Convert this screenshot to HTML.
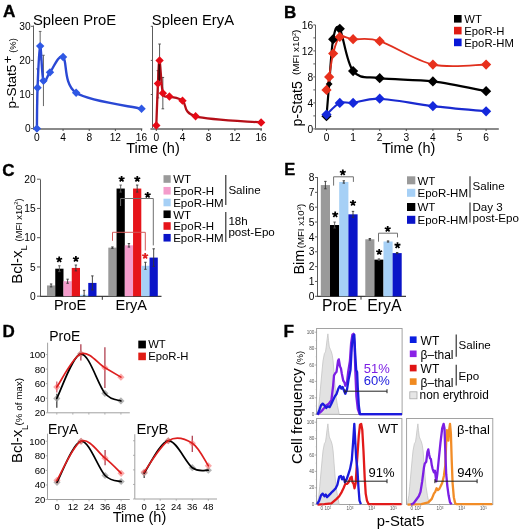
<!DOCTYPE html>
<html><head><meta charset="utf-8"><style>
html,body{margin:0;padding:0;background:#fff;width:520px;height:530px;overflow:hidden}
svg{display:block;will-change:transform}
text{font-family:"Liberation Sans", sans-serif}
</style></head><body>
<svg width="520" height="530" viewBox="0 0 520 530">
<rect width="520" height="530" fill="#fff"/>
<text x="3" y="17.3" font-size="17.2" text-anchor="start" fill="#000" font-weight="bold" stroke="#000" stroke-width="0.35">A</text>
<text x="33" y="24.8" font-size="14.8" text-anchor="start" fill="#000" >Spleen ProE</text>
<text x="151.8" y="24.8" font-size="14.8" text-anchor="start" fill="#000" >Spleen EryA</text>
<line x1="33.5" y1="25.5" x2="33.5" y2="130" stroke="#5c5c5c" stroke-width="1" />
<line x1="33" y1="129" x2="142.3" y2="129" stroke="#8a8a8a" stroke-width="1.9" />
<line x1="31" y1="128.6" x2="33.5" y2="128.6" stroke="#5c5c5c" stroke-width="1" />
<text x="30.6" y="132.2" font-size="10.2" text-anchor="end" fill="#000" >0</text>
<line x1="31" y1="94.5" x2="33.5" y2="94.5" stroke="#5c5c5c" stroke-width="1" />
<text x="30.6" y="98.1" font-size="10.2" text-anchor="end" fill="#000" >10</text>
<line x1="31" y1="60.4" x2="33.5" y2="60.4" stroke="#5c5c5c" stroke-width="1" />
<text x="30.6" y="64" font-size="10.2" text-anchor="end" fill="#000" >20</text>
<line x1="31" y1="26.3" x2="33.5" y2="26.3" stroke="#5c5c5c" stroke-width="1" />
<text x="30.6" y="29.9" font-size="10.2" text-anchor="end" fill="#000" >30</text>
<line x1="36.9" y1="129" x2="36.9" y2="131" stroke="#444" stroke-width="0.9" />
<text x="36.9" y="140.9" font-size="10.2" text-anchor="middle" fill="#000" >0</text>
<line x1="63.06" y1="129" x2="63.06" y2="131" stroke="#444" stroke-width="0.9" />
<text x="63.06" y="140.9" font-size="10.2" text-anchor="middle" fill="#000" >4</text>
<line x1="89.22" y1="129" x2="89.22" y2="131" stroke="#444" stroke-width="0.9" />
<text x="89.22" y="140.9" font-size="10.2" text-anchor="middle" fill="#000" >8</text>
<line x1="115.38" y1="129" x2="115.38" y2="131" stroke="#444" stroke-width="0.9" />
<text x="115.38" y="140.9" font-size="10.2" text-anchor="middle" fill="#000" >12</text>
<line x1="141.54" y1="129" x2="141.54" y2="131" stroke="#444" stroke-width="0.9" />
<text x="141.54" y="140.9" font-size="10.2" text-anchor="middle" fill="#000" >16</text>
<line x1="152.5" y1="26" x2="152.5" y2="130" stroke="#5c5c5c" stroke-width="1" />
<line x1="150.4" y1="129" x2="262" y2="129" stroke="#8a8a8a" stroke-width="1.9" />
<line x1="150.8" y1="94.5" x2="152.5" y2="94.5" stroke="#5c5c5c" stroke-width="1" />
<line x1="150.8" y1="60.4" x2="152.5" y2="60.4" stroke="#5c5c5c" stroke-width="1" />
<line x1="150.8" y1="26.3" x2="152.5" y2="26.3" stroke="#5c5c5c" stroke-width="1" />
<line x1="156.3" y1="129" x2="156.3" y2="131" stroke="#444" stroke-width="0.9" />
<text x="156.3" y="140.9" font-size="10.2" text-anchor="middle" fill="#000" >0</text>
<line x1="182.5" y1="129" x2="182.5" y2="131" stroke="#444" stroke-width="0.9" />
<text x="182.5" y="140.9" font-size="10.2" text-anchor="middle" fill="#000" >4</text>
<line x1="208.7" y1="129" x2="208.7" y2="131" stroke="#444" stroke-width="0.9" />
<text x="208.7" y="140.9" font-size="10.2" text-anchor="middle" fill="#000" >8</text>
<line x1="234.9" y1="129" x2="234.9" y2="131" stroke="#444" stroke-width="0.9" />
<text x="234.9" y="140.9" font-size="10.2" text-anchor="middle" fill="#000" >12</text>
<line x1="261.1" y1="129" x2="261.1" y2="131" stroke="#444" stroke-width="0.9" />
<text x="261.1" y="140.9" font-size="10.2" text-anchor="middle" fill="#000" >16</text>
<text x="153" y="152.7" font-size="14.5" text-anchor="middle" fill="#000" >Time (h)</text>
<text x="16.3" y="108.5" font-size="13.6" text-anchor="start" fill="#000" transform="rotate(-90 16.3 108.5)" >p-Stat5</text>
<text x="12.3" y="63.4" font-size="13.4" text-anchor="start" fill="#000" transform="rotate(-90 12.3 63.4)" >+</text>
<text x="16.4" y="52.8" font-size="9.4" text-anchor="start" fill="#000" transform="rotate(-90 16.4 52.8)" >(%)</text>
<line x1="37.55" y1="104.73" x2="37.55" y2="68.92" stroke="#555" stroke-width="0.9" />
<line x1="36.25" y1="68.92" x2="38.85" y2="68.92" stroke="#555" stroke-width="0.9" />
<line x1="40.17" y1="60.4" x2="40.17" y2="31.41" stroke="#555" stroke-width="0.9" />
<line x1="38.87" y1="31.41" x2="41.47" y2="31.41" stroke="#555" stroke-width="0.9" />
<line x1="43.44" y1="106.09" x2="43.44" y2="55.28" stroke="#555" stroke-width="0.9" />
<line x1="42.14" y1="55.28" x2="44.74" y2="55.28" stroke="#555" stroke-width="0.9" />
<path d="M36.9 128.6C37.01 121.78 37.01 101.43 37.55 87.68C38.1 73.93 39.19 47.21 40.17 46.08C41.15 44.94 41.8 76.48 43.44 80.86C45.07 85.24 46.71 76.31 49.98 72.33C53.25 68.36 58.7 53.58 63.06 56.99C67.42 60.4 63.06 84.16 76.14 92.79C89.22 101.43 130.64 106.15 141.54 108.82" fill="none" stroke="#2a48d4" stroke-width="2.4" stroke-linejoin="round" stroke-linecap="round" />
<path d="M36.9 124.4L41.1 128.6L36.9 132.8L32.7 128.6Z" fill="#2f58e4" />
<path d="M37.55 83.48L41.75 87.68L37.55 91.88L33.35 87.68Z" fill="#2f58e4" />
<path d="M40.17 41.88L44.37 46.08L40.17 50.28L35.97 46.08Z" fill="#2f58e4" />
<path d="M43.44 76.66L47.64 80.86L43.44 85.06L39.24 80.86Z" fill="#2f58e4" />
<path d="M49.98 68.13L54.18 72.33L49.98 76.53L45.78 72.33Z" fill="#2f58e4" />
<path d="M63.06 52.79L67.26 56.99L63.06 61.19L58.86 56.99Z" fill="#2f58e4" />
<path d="M76.14 88.59L80.34 92.79L76.14 96.99L71.94 92.79Z" fill="#2f58e4" />
<path d="M141.54 104.62L145.74 108.82L141.54 113.02L137.34 108.82Z" fill="#2f58e4" />
<line x1="157.94" y1="97.91" x2="157.94" y2="70.63" stroke="#444" stroke-width="0.9" />
<line x1="156.64" y1="70.63" x2="159.24" y2="70.63" stroke="#444" stroke-width="0.9" />
<line x1="156.64" y1="97.91" x2="159.24" y2="97.91" stroke="#444" stroke-width="0.9" />
<line x1="159.58" y1="82.22" x2="159.58" y2="44.03" stroke="#444" stroke-width="0.9" />
<line x1="158.28" y1="44.03" x2="160.88" y2="44.03" stroke="#444" stroke-width="0.9" />
<line x1="158.28" y1="82.22" x2="160.88" y2="82.22" stroke="#444" stroke-width="0.9" />
<line x1="162.85" y1="108.82" x2="162.85" y2="77.45" stroke="#444" stroke-width="0.9" />
<line x1="161.55" y1="77.45" x2="164.15" y2="77.45" stroke="#444" stroke-width="0.9" />
<line x1="161.55" y1="108.82" x2="164.15" y2="108.82" stroke="#444" stroke-width="0.9" />
<path d="M156.3 125.53C156.57 118.54 157.39 94.44 157.94 83.59C158.48 72.73 158.76 58.81 159.58 60.4C160.39 61.99 161.21 87.11 162.85 93.14C164.49 99.16 166.12 95.3 169.4 96.55C172.68 97.8 178.13 97.34 182.5 100.64C186.87 103.93 182.5 112.69 195.6 116.32C208.7 119.96 250.18 121.44 261.1 122.46" fill="none" stroke="#b50f18" stroke-width="2.3" stroke-linejoin="round" stroke-linecap="round" />
<line x1="159.28" y1="63.81" x2="159.28" y2="80.86" stroke="#3a0808" stroke-width="1.8" />
<path d="M156.3 121.33L160.5 125.53L156.3 129.73L152.1 125.53Z" fill="#e60a16" />
<path d="M157.94 79.39L162.14 83.59L157.94 87.79L153.74 83.59Z" fill="#e60a16" />
<path d="M159.58 56.2L163.78 60.4L159.58 64.6L155.38 60.4Z" fill="#e60a16" />
<path d="M162.85 88.94L167.05 93.14L162.85 97.34L158.65 93.14Z" fill="#e60a16" />
<path d="M169.4 92.35L173.6 96.55L169.4 100.75L165.2 96.55Z" fill="#e60a16" />
<path d="M182.5 96.44L186.7 100.64L182.5 104.84L178.3 100.64Z" fill="#e60a16" />
<path d="M195.6 112.12L199.8 116.32L195.6 120.52L191.4 116.32Z" fill="#e60a16" />
<path d="M261.1 118.26L265.3 122.46L261.1 126.66L256.9 122.46Z" fill="#e60a16" />
<text x="284" y="17.9" font-size="17" text-anchor="start" fill="#000" font-weight="bold" stroke="#000" stroke-width="0.35">B</text>
<line x1="315.5" y1="25" x2="315.5" y2="130" stroke="#5c5c5c" stroke-width="1" />
<line x1="315" y1="129" x2="498.8" y2="129" stroke="#8a8a8a" stroke-width="1.9" />
<line x1="313.3" y1="128.9" x2="315.5" y2="128.9" stroke="#5c5c5c" stroke-width="1" />
<line x1="313.3" y1="115.9" x2="315.5" y2="115.9" stroke="#5c5c5c" stroke-width="1" />
<line x1="313.3" y1="102.9" x2="315.5" y2="102.9" stroke="#5c5c5c" stroke-width="1" />
<line x1="313.3" y1="89.9" x2="315.5" y2="89.9" stroke="#5c5c5c" stroke-width="1" />
<line x1="313.3" y1="76.9" x2="315.5" y2="76.9" stroke="#5c5c5c" stroke-width="1" />
<line x1="313.3" y1="63.9" x2="315.5" y2="63.9" stroke="#5c5c5c" stroke-width="1" />
<line x1="313.3" y1="50.9" x2="315.5" y2="50.9" stroke="#5c5c5c" stroke-width="1" />
<line x1="313.3" y1="37.9" x2="315.5" y2="37.9" stroke="#5c5c5c" stroke-width="1" />
<line x1="313.3" y1="24.9" x2="315.5" y2="24.9" stroke="#5c5c5c" stroke-width="1" />
<text x="313.2" y="132.5" font-size="10.2" text-anchor="end" fill="#000" >0</text>
<text x="313.2" y="106.5" font-size="10.2" text-anchor="end" fill="#000" >4</text>
<text x="313.2" y="80.5" font-size="10.2" text-anchor="end" fill="#000" >8</text>
<text x="313.2" y="54.5" font-size="10.2" text-anchor="end" fill="#000" >12</text>
<text x="313.2" y="28.5" font-size="10.2" text-anchor="end" fill="#000" >16</text>
<line x1="326.5" y1="129" x2="326.5" y2="131" stroke="#444" stroke-width="0.9" />
<text x="326.5" y="141.2" font-size="10.2" text-anchor="middle" fill="#000" >0</text>
<line x1="353.1" y1="129" x2="353.1" y2="131" stroke="#444" stroke-width="0.9" />
<text x="353.1" y="141.2" font-size="10.2" text-anchor="middle" fill="#000" >1</text>
<line x1="379.7" y1="129" x2="379.7" y2="131" stroke="#444" stroke-width="0.9" />
<text x="379.7" y="141.2" font-size="10.2" text-anchor="middle" fill="#000" >2</text>
<line x1="406.3" y1="129" x2="406.3" y2="131" stroke="#444" stroke-width="0.9" />
<text x="406.3" y="141.2" font-size="10.2" text-anchor="middle" fill="#000" >3</text>
<line x1="432.9" y1="129" x2="432.9" y2="131" stroke="#444" stroke-width="0.9" />
<text x="432.9" y="141.2" font-size="10.2" text-anchor="middle" fill="#000" >4</text>
<line x1="459.5" y1="129" x2="459.5" y2="131" stroke="#444" stroke-width="0.9" />
<text x="459.5" y="141.2" font-size="10.2" text-anchor="middle" fill="#000" >5</text>
<line x1="486.1" y1="129" x2="486.1" y2="131" stroke="#444" stroke-width="0.9" />
<text x="486.1" y="141.2" font-size="10.2" text-anchor="middle" fill="#000" >6</text>
<text x="408.6" y="152.7" font-size="14.5" text-anchor="middle" fill="#000" >Time (h)</text>
<text x="302" y="126.4" font-size="14" text-anchor="start" fill="#000" transform="rotate(-90 302 126.4)" >p-Stat5</text>
<text x="299" y="75" font-size="9.9" transform="rotate(-90 299 75)">(MFI x10<tspan font-size="5.5" dy="-3">2</tspan><tspan dy="3">)</tspan></text>
<path d="M326.5 114.6C328.72 112.65 335.37 104.85 339.8 102.9C344.23 100.95 346.45 103.6 353.1 102.9C359.75 102.2 366.4 98.13 379.7 98.68C393 99.22 415.17 104.04 432.9 106.15C450.63 108.26 477.23 110.48 486.1 111.35" fill="none" stroke="#1a2ad0" stroke-width="2.1" stroke-linejoin="round" stroke-linecap="round" />
<path d="M326.5 116.23C326.94 110.86 328.05 96.89 329.16 84.05C330.27 71.21 331.38 48.41 333.15 39.2C334.92 29.99 336.48 23.49 339.8 28.8C343.12 34.11 346.45 62.82 353.1 71.05C359.75 79.28 366.4 76.47 379.7 78.2C393 79.93 415.17 79.28 432.9 81.45C450.63 83.62 477.23 89.58 486.1 91.2" fill="none" stroke="#000" stroke-width="2.2" stroke-linejoin="round" stroke-linecap="round" />
<path d="M326.5 89.9C326.94 87.73 328.05 82.97 329.16 76.9C330.27 70.83 331.38 60.16 333.15 53.5C334.92 46.84 336.48 39.31 339.8 36.92C343.12 34.54 346.45 38.5 353.1 39.2C359.75 39.9 366.4 36.93 379.7 41.15C393 45.38 415.17 60.65 432.9 64.55C450.63 68.45 477.23 64.55 486.1 64.55" fill="none" stroke="#e0301e" stroke-width="1.9" stroke-linejoin="round" stroke-linecap="round" />
<path d="M326.5 111.13L331.6 116.23L326.5 121.33L321.4 116.23Z" fill="#000" />
<path d="M329.16 80.65L332.56 84.05L329.16 87.45L325.76 84.05Z" fill="#000" />
<path d="M333.15 34.1L338.25 39.2L333.15 44.3L328.05 39.2Z" fill="#000" />
<path d="M339.8 23.7L344.9 28.8L339.8 33.9L334.7 28.8Z" fill="#000" />
<path d="M353.1 65.95L358.2 71.05L353.1 76.15L348 71.05Z" fill="#000" />
<path d="M379.7 73.1L384.8 78.2L379.7 83.3L374.6 78.2Z" fill="#000" />
<path d="M432.9 76.35L438 81.45L432.9 86.55L427.8 81.45Z" fill="#000" />
<path d="M486.1 86.1L491.2 91.2L486.1 96.3L481 91.2Z" fill="#000" />
<path d="M326.5 84.8L331.6 89.9L326.5 95L321.4 89.9Z" fill="#e8301c" />
<path d="M329.16 71.8L334.26 76.9L329.16 82L324.06 76.9Z" fill="#e8301c" />
<path d="M333.15 48.4L338.25 53.5L333.15 58.6L328.05 53.5Z" fill="#e8301c" />
<path d="M339.8 31.82L344.9 36.92L339.8 42.02L334.7 36.92Z" fill="#e8301c" />
<path d="M353.1 34.1L358.2 39.2L353.1 44.3L348 39.2Z" fill="#e8301c" />
<path d="M379.7 36.05L384.8 41.15L379.7 46.25L374.6 41.15Z" fill="#e8301c" />
<path d="M432.9 59.45L438 64.55L432.9 69.65L427.8 64.55Z" fill="#e8301c" />
<path d="M486.1 59.45L491.2 64.55L486.1 69.65L481 64.55Z" fill="#e8301c" />
<path d="M326.5 109.5L331.6 114.6L326.5 119.7L321.4 114.6Z" fill="#1428dc" />
<path d="M339.8 97.8L344.9 102.9L339.8 108L334.7 102.9Z" fill="#1428dc" />
<path d="M353.1 97.8L358.2 102.9L353.1 108L348 102.9Z" fill="#1428dc" />
<path d="M379.7 93.58L384.8 98.68L379.7 103.78L374.6 98.68Z" fill="#1428dc" />
<path d="M432.9 101.05L438 106.15L432.9 111.25L427.8 106.15Z" fill="#1428dc" />
<path d="M486.1 106.25L491.2 111.35L486.1 116.45L481 111.35Z" fill="#1428dc" />
<rect x="454" y="15" width="7.6" height="7.6" fill="#000" />
<text x="464.3" y="23.3" font-size="11.3" text-anchor="start" fill="#000" >WT</text>
<rect x="454" y="26.8" width="7.6" height="7.6" fill="#e01c14" />
<text x="464.3" y="35.1" font-size="11.3" text-anchor="start" fill="#000" >EpoR-H</text>
<rect x="454" y="38.6" width="7.6" height="7.6" fill="#0818d8" />
<text x="464.3" y="46.9" font-size="11.3" text-anchor="start" fill="#000" >EpoR-HM</text>
<text x="2.2" y="175.8" font-size="17" text-anchor="start" fill="#000" font-weight="bold" stroke="#000" stroke-width="0.35">C</text>
<line x1="40.5" y1="179.5" x2="40.5" y2="296.6" stroke="#5c5c5c" stroke-width="1" />
<line x1="40" y1="296.4" x2="161.5" y2="296.4" stroke="#404040" stroke-width="1.2" />
<line x1="37" y1="296.2" x2="40.5" y2="296.2" stroke="#5c5c5c" stroke-width="1" />
<text x="35.6" y="299.8" font-size="10.2" text-anchor="end" fill="#000" >0</text>
<line x1="37" y1="266.95" x2="40.5" y2="266.95" stroke="#5c5c5c" stroke-width="1" />
<text x="35.6" y="270.55" font-size="10.2" text-anchor="end" fill="#000" >5</text>
<line x1="37" y1="237.7" x2="40.5" y2="237.7" stroke="#5c5c5c" stroke-width="1" />
<text x="35.6" y="241.3" font-size="10.2" text-anchor="end" fill="#000" >10</text>
<line x1="37" y1="208.45" x2="40.5" y2="208.45" stroke="#5c5c5c" stroke-width="1" />
<text x="35.6" y="212.05" font-size="10.2" text-anchor="end" fill="#000" >15</text>
<line x1="37" y1="179.2" x2="40.5" y2="179.2" stroke="#5c5c5c" stroke-width="1" />
<text x="35.6" y="182.8" font-size="10.2" text-anchor="end" fill="#000" >20</text>
<line x1="102.3" y1="296.2" x2="102.3" y2="299.8" stroke="#333" stroke-width="1" />
<rect x="47" y="285.44" width="8.25" height="10.76" fill="#9a9a9a" />
<rect x="55.25" y="268.7" width="8.25" height="27.5" fill="#000" />
<rect x="63.5" y="281.22" width="8.25" height="14.98" fill="#f49ccb" />
<rect x="71.75" y="267.94" width="8.25" height="28.26" fill="#e6141a" />
<rect x="80" y="294.74" width="8.25" height="1.46" fill="#a6d0f6" />
<rect x="88.25" y="282.92" width="8.25" height="13.28" fill="#0a14c8" />
<line x1="51.12" y1="286.9" x2="51.12" y2="283.97" stroke="#333" stroke-width="0.9" />
<line x1="49.92" y1="283.97" x2="52.33" y2="283.97" stroke="#333" stroke-width="0.9" />
<line x1="49.92" y1="286.9" x2="52.33" y2="286.9" stroke="#333" stroke-width="0.9" />
<line x1="59.38" y1="271.63" x2="59.38" y2="265.78" stroke="#555" stroke-width="0.9" />
<line x1="58.17" y1="265.78" x2="60.58" y2="265.78" stroke="#555" stroke-width="0.9" />
<line x1="58.17" y1="271.63" x2="60.58" y2="271.63" stroke="#555" stroke-width="0.9" />
<line x1="67.62" y1="283.27" x2="67.62" y2="279.18" stroke="#333" stroke-width="0.9" />
<line x1="66.42" y1="279.18" x2="68.83" y2="279.18" stroke="#333" stroke-width="0.9" />
<line x1="66.42" y1="283.27" x2="68.83" y2="283.27" stroke="#333" stroke-width="0.9" />
<line x1="75.88" y1="270.87" x2="75.88" y2="265.02" stroke="#333" stroke-width="0.9" />
<line x1="74.67" y1="265.02" x2="77.08" y2="265.02" stroke="#333" stroke-width="0.9" />
<line x1="74.67" y1="270.87" x2="77.08" y2="270.87" stroke="#333" stroke-width="0.9" />
<line x1="84.12" y1="295.73" x2="84.12" y2="290.35" stroke="#333" stroke-width="0.9" />
<line x1="82.92" y1="290.35" x2="85.33" y2="290.35" stroke="#333" stroke-width="0.9" />
<line x1="82.92" y1="295.73" x2="85.33" y2="295.73" stroke="#333" stroke-width="0.9" />
<line x1="92.38" y1="289.94" x2="92.38" y2="275.9" stroke="#333" stroke-width="0.9" />
<line x1="91.17" y1="275.9" x2="93.58" y2="275.9" stroke="#333" stroke-width="0.9" />
<line x1="91.17" y1="289.94" x2="93.58" y2="289.94" stroke="#333" stroke-width="0.9" />
<rect x="108.3" y="247.64" width="8.25" height="48.56" fill="#9a9a9a" />
<rect x="116.55" y="188.56" width="8.25" height="107.64" fill="#000" />
<rect x="124.8" y="245.31" width="8.25" height="50.89" fill="#f49ccb" />
<rect x="133.05" y="188.56" width="8.25" height="107.64" fill="#e6141a" />
<rect x="141.3" y="265.78" width="8.25" height="30.42" fill="#a6d0f6" />
<rect x="149.55" y="257.59" width="8.25" height="38.61" fill="#0a14c8" />
<line x1="112.42" y1="248.35" x2="112.42" y2="246.94" stroke="#333" stroke-width="0.9" />
<line x1="111.22" y1="246.94" x2="113.62" y2="246.94" stroke="#333" stroke-width="0.9" />
<line x1="111.22" y1="248.35" x2="113.62" y2="248.35" stroke="#333" stroke-width="0.9" />
<line x1="120.67" y1="192.07" x2="120.67" y2="185.05" stroke="#555" stroke-width="0.9" />
<line x1="119.47" y1="185.05" x2="121.88" y2="185.05" stroke="#555" stroke-width="0.9" />
<line x1="119.47" y1="192.07" x2="121.88" y2="192.07" stroke="#555" stroke-width="0.9" />
<line x1="128.93" y1="247.06" x2="128.93" y2="243.55" stroke="#333" stroke-width="0.9" />
<line x1="127.73" y1="243.55" x2="130.12" y2="243.55" stroke="#333" stroke-width="0.9" />
<line x1="127.73" y1="247.06" x2="130.12" y2="247.06" stroke="#333" stroke-width="0.9" />
<line x1="137.18" y1="192.07" x2="137.18" y2="185.05" stroke="#333" stroke-width="0.9" />
<line x1="135.98" y1="185.05" x2="138.38" y2="185.05" stroke="#333" stroke-width="0.9" />
<line x1="135.98" y1="192.07" x2="138.38" y2="192.07" stroke="#333" stroke-width="0.9" />
<line x1="145.43" y1="269.29" x2="145.43" y2="262.27" stroke="#333" stroke-width="0.9" />
<line x1="144.23" y1="262.27" x2="146.62" y2="262.27" stroke="#333" stroke-width="0.9" />
<line x1="144.23" y1="269.29" x2="146.62" y2="269.29" stroke="#333" stroke-width="0.9" />
<line x1="153.68" y1="266.37" x2="153.68" y2="248.81" stroke="#333" stroke-width="0.9" />
<line x1="152.48" y1="248.81" x2="154.88" y2="248.81" stroke="#333" stroke-width="0.9" />
<line x1="152.48" y1="266.37" x2="154.88" y2="266.37" stroke="#333" stroke-width="0.9" />
<path d="M59.2 259.5L59.2 256.4M59.2 259.5L62.15 258.54M59.2 259.5L61.02 262.01M59.2 259.5L57.38 262.01M59.2 259.5L56.25 258.54" stroke="#000" stroke-width="1.75" stroke-linecap="butt" fill="none"/>
<path d="M75.9 259L75.9 255.9M75.9 259L78.85 258.04M75.9 259L77.72 261.51M75.9 259L74.08 261.51M75.9 259L72.95 258.04" stroke="#000" stroke-width="1.75" stroke-linecap="butt" fill="none"/>
<path d="M121.6 179L121.6 175.9M121.6 179L124.55 178.04M121.6 179L123.42 181.51M121.6 179L119.78 181.51M121.6 179L118.65 178.04" stroke="#000" stroke-width="1.75" stroke-linecap="butt" fill="none"/>
<path d="M137.3 179L137.3 175.9M137.3 179L140.25 178.04M137.3 179L139.12 181.51M137.3 179L135.48 181.51M137.3 179L134.35 178.04" stroke="#000" stroke-width="1.75" stroke-linecap="butt" fill="none"/>
<path d="M147.7 195L147.7 191.9M147.7 195L150.65 194.04M147.7 195L149.52 197.51M147.7 195L145.88 197.51M147.7 195L144.75 194.04" stroke="#000" stroke-width="1.75" stroke-linecap="butt" fill="none"/>
<path d="M120.6 206V198.5H153.3V245.4" fill="none" stroke="#707070" stroke-width="1"/>
<path d="M112.5 240.8V232.3H145.3V250.5" fill="none" stroke="#d45858" stroke-width="1"/>
<path d="M145.2 256L145.2 252.9M145.2 256L148.15 255.04M145.2 256L147.02 258.51M145.2 256L143.38 258.51M145.2 256L142.25 255.04" stroke="#e02020" stroke-width="1.75" stroke-linecap="butt" fill="none"/>
<rect x="163.5" y="175.2" width="7.2" height="7.6" fill="#9a9a9a" />
<text x="173.2" y="183.4" font-size="11.5" text-anchor="start" fill="#000" >WT</text>
<rect x="163.5" y="186.95" width="7.2" height="7.6" fill="#f49ccb" />
<text x="173.2" y="195.15" font-size="11.5" text-anchor="start" fill="#000" >EpoR-H</text>
<rect x="163.5" y="198.7" width="7.2" height="7.6" fill="#a6d0f6" />
<text x="173.2" y="206.9" font-size="11.5" text-anchor="start" fill="#000" >EpoR-HM</text>
<rect x="163.5" y="210.45" width="7.2" height="7.6" fill="#000" />
<text x="173.2" y="218.65" font-size="11.5" text-anchor="start" fill="#000" >WT</text>
<rect x="163.5" y="222.2" width="7.2" height="7.6" fill="#e6141a" />
<text x="173.2" y="230.4" font-size="11.5" text-anchor="start" fill="#000" >EpoR-H</text>
<rect x="163.5" y="233.95" width="7.2" height="7.6" fill="#0a14c8" />
<text x="173.2" y="242.15" font-size="11.5" text-anchor="start" fill="#000" >EpoR-HM</text>
<line x1="225.8" y1="175" x2="225.8" y2="205" stroke="#222" stroke-width="1.1" />
<line x1="225.8" y1="212" x2="225.8" y2="242" stroke="#222" stroke-width="1.1" />
<text x="228.4" y="193.5" font-size="11.6" text-anchor="start" fill="#000" >Saline</text>
<text x="228.4" y="224.6" font-size="11.6" text-anchor="start" fill="#000" >18h</text>
<text x="228.4" y="236.3" font-size="11.6" text-anchor="start" fill="#000" >post-Epo</text>
<text x="70" y="310.3" font-size="14.5" text-anchor="middle" fill="#000" >ProE</text>
<text x="131.3" y="310.3" font-size="14.5" text-anchor="middle" fill="#000" >EryA</text>
<text x="21.6" y="283.8" font-size="15" text-anchor="start" fill="#000" transform="rotate(-90 21.6 283.8)" >Bcl-x</text>
<text x="26.6" y="250.4" font-size="9.8" text-anchor="start" fill="#000" transform="rotate(-90 26.6 250.4)" >L</text>
<text x="21.6" y="241.4" font-size="9.3" transform="rotate(-90 21.6 241.4)">(MFI x10<tspan font-size="5.8" dy="-3.3">2</tspan><tspan dy="3.3">)</tspan></text>
<text x="284.2" y="175.4" font-size="16.5" text-anchor="start" fill="#000" font-weight="bold" stroke="#000" stroke-width="0.35">E</text>
<line x1="317.5" y1="177" x2="317.5" y2="296.7" stroke="#5c5c5c" stroke-width="1" />
<line x1="317" y1="296.4" x2="406" y2="296.4" stroke="#404040" stroke-width="1.2" />
<line x1="315" y1="296.3" x2="317.5" y2="296.3" stroke="#5c5c5c" stroke-width="1" />
<text x="314.5" y="299.9" font-size="10.2" text-anchor="end" fill="#000" >0</text>
<line x1="315" y1="281.45" x2="317.5" y2="281.45" stroke="#5c5c5c" stroke-width="1" />
<text x="314.5" y="285.05" font-size="10.2" text-anchor="end" fill="#000" >1</text>
<line x1="315" y1="266.6" x2="317.5" y2="266.6" stroke="#5c5c5c" stroke-width="1" />
<text x="314.5" y="270.2" font-size="10.2" text-anchor="end" fill="#000" >2</text>
<line x1="315" y1="251.75" x2="317.5" y2="251.75" stroke="#5c5c5c" stroke-width="1" />
<text x="314.5" y="255.35" font-size="10.2" text-anchor="end" fill="#000" >3</text>
<line x1="315" y1="236.9" x2="317.5" y2="236.9" stroke="#5c5c5c" stroke-width="1" />
<text x="314.5" y="240.5" font-size="10.2" text-anchor="end" fill="#000" >4</text>
<line x1="315" y1="222.05" x2="317.5" y2="222.05" stroke="#5c5c5c" stroke-width="1" />
<text x="314.5" y="225.65" font-size="10.2" text-anchor="end" fill="#000" >5</text>
<line x1="315" y1="207.2" x2="317.5" y2="207.2" stroke="#5c5c5c" stroke-width="1" />
<text x="314.5" y="210.8" font-size="10.2" text-anchor="end" fill="#000" >6</text>
<line x1="315" y1="192.35" x2="317.5" y2="192.35" stroke="#5c5c5c" stroke-width="1" />
<text x="314.5" y="195.95" font-size="10.2" text-anchor="end" fill="#000" >7</text>
<line x1="315" y1="177.5" x2="317.5" y2="177.5" stroke="#5c5c5c" stroke-width="1" />
<text x="314.5" y="181.1" font-size="10.2" text-anchor="end" fill="#000" >8</text>
<line x1="361" y1="296.3" x2="361" y2="299.6" stroke="#333" stroke-width="1" />
<rect x="320.8" y="185.07" width="9.2" height="111.23" fill="#9a9a9a" />
<rect x="330" y="225.02" width="9.2" height="71.28" fill="#000" />
<rect x="339.2" y="181.96" width="9.2" height="114.34" fill="#a6d0f6" />
<rect x="348.4" y="214.33" width="9.2" height="81.97" fill="#0a14c8" />
<line x1="325.4" y1="188.79" x2="325.4" y2="181.36" stroke="#333" stroke-width="0.9" />
<line x1="324.2" y1="181.36" x2="326.6" y2="181.36" stroke="#333" stroke-width="0.9" />
<line x1="324.2" y1="188.79" x2="326.6" y2="188.79" stroke="#333" stroke-width="0.9" />
<line x1="334.6" y1="227.99" x2="334.6" y2="222.05" stroke="#555" stroke-width="0.9" />
<line x1="333.4" y1="222.05" x2="335.8" y2="222.05" stroke="#555" stroke-width="0.9" />
<line x1="333.4" y1="227.99" x2="335.8" y2="227.99" stroke="#555" stroke-width="0.9" />
<line x1="343.8" y1="183.14" x2="343.8" y2="180.77" stroke="#333" stroke-width="0.9" />
<line x1="342.6" y1="180.77" x2="345" y2="180.77" stroke="#333" stroke-width="0.9" />
<line x1="342.6" y1="183.14" x2="345" y2="183.14" stroke="#333" stroke-width="0.9" />
<line x1="353" y1="217.3" x2="353" y2="211.36" stroke="#333" stroke-width="0.9" />
<line x1="351.8" y1="211.36" x2="354.2" y2="211.36" stroke="#333" stroke-width="0.9" />
<line x1="351.8" y1="217.3" x2="354.2" y2="217.3" stroke="#333" stroke-width="0.9" />
<rect x="365.3" y="239.28" width="9.1" height="57.02" fill="#9a9a9a" />
<rect x="374.4" y="259.62" width="9.1" height="36.68" fill="#000" />
<rect x="383.5" y="241.5" width="9.1" height="54.8" fill="#a6d0f6" />
<rect x="392.6" y="253.09" width="9.1" height="43.21" fill="#0a14c8" />
<line x1="369.85" y1="240.02" x2="369.85" y2="238.53" stroke="#333" stroke-width="0.9" />
<line x1="368.65" y1="238.53" x2="371.05" y2="238.53" stroke="#333" stroke-width="0.9" />
<line x1="368.65" y1="240.02" x2="371.05" y2="240.02" stroke="#333" stroke-width="0.9" />
<line x1="378.95" y1="260.36" x2="378.95" y2="258.88" stroke="#555" stroke-width="0.9" />
<line x1="377.75" y1="258.88" x2="380.15" y2="258.88" stroke="#555" stroke-width="0.9" />
<line x1="377.75" y1="260.36" x2="380.15" y2="260.36" stroke="#555" stroke-width="0.9" />
<line x1="388.05" y1="242.1" x2="388.05" y2="240.91" stroke="#333" stroke-width="0.9" />
<line x1="386.85" y1="240.91" x2="389.25" y2="240.91" stroke="#333" stroke-width="0.9" />
<line x1="386.85" y1="242.1" x2="389.25" y2="242.1" stroke="#333" stroke-width="0.9" />
<line x1="397.15" y1="253.68" x2="397.15" y2="252.49" stroke="#333" stroke-width="0.9" />
<line x1="395.95" y1="252.49" x2="398.35" y2="252.49" stroke="#333" stroke-width="0.9" />
<line x1="395.95" y1="253.68" x2="398.35" y2="253.68" stroke="#333" stroke-width="0.9" />
<path d="M335.2 214.5L335.2 211.4M335.2 214.5L338.15 213.54M335.2 214.5L337.02 217.01M335.2 214.5L333.38 217.01M335.2 214.5L332.25 213.54" stroke="#000" stroke-width="1.75" stroke-linecap="butt" fill="none"/>
<path d="M353 203L353 199.9M353 203L355.95 202.04M353 203L354.82 205.51M353 203L351.18 205.51M353 203L350.05 202.04" stroke="#000" stroke-width="1.75" stroke-linecap="butt" fill="none"/>
<path d="M342.8 172.5L342.8 169.4M342.8 172.5L345.75 171.54M342.8 172.5L344.62 175.01M342.8 172.5L340.98 175.01M342.8 172.5L339.85 171.54" stroke="#000" stroke-width="1.75" stroke-linecap="butt" fill="none"/>
<path d="M379.2 252L379.2 248.9M379.2 252L382.15 251.04M379.2 252L381.02 254.51M379.2 252L377.38 254.51M379.2 252L376.25 251.04" stroke="#000" stroke-width="1.75" stroke-linecap="butt" fill="none"/>
<path d="M397.5 245.4L397.5 242.3M397.5 245.4L400.45 244.44M397.5 245.4L399.32 247.91M397.5 245.4L395.68 247.91M397.5 245.4L394.55 244.44" stroke="#000" stroke-width="1.75" stroke-linecap="butt" fill="none"/>
<path d="M387.7 229L387.7 225.9M387.7 229L390.65 228.04M387.7 229L389.52 231.51M387.7 229L385.88 231.51M387.7 229L384.75 228.04" stroke="#000" stroke-width="1.75" stroke-linecap="butt" fill="none"/>
<path d="M333.6 185.6V176.8H353.4V181.9" fill="none" stroke="#707070" stroke-width="1"/>
<path d="M378.5 241.7V233.2H397.5V237.4" fill="none" stroke="#707070" stroke-width="1"/>
<text x="303.6" y="274.6" font-size="14.5" text-anchor="start" fill="#000" transform="rotate(-90 303.6 274.6)" >Bim</text>
<text x="304" y="248.2" font-size="9.6" transform="rotate(-90 304 248.2)">(MFI x10<tspan font-size="5.8" dy="-3.3">3</tspan><tspan dy="3.3">)</tspan></text>
<rect x="407" y="176.3" width="8.3" height="8" fill="#9a9a9a" />
<text x="417.5" y="184.6" font-size="11.5" text-anchor="start" fill="#000" >WT</text>
<rect x="407" y="188.8" width="8.3" height="8" fill="#a6d0f6" />
<text x="417.5" y="197.1" font-size="11.5" text-anchor="start" fill="#000" >EpoR-HM</text>
<rect x="407" y="203" width="8.3" height="8" fill="#000" />
<text x="417.5" y="211.3" font-size="11.5" text-anchor="start" fill="#000" >WT</text>
<rect x="407" y="215.8" width="8.3" height="8" fill="#0a14c8" />
<text x="417.5" y="224.1" font-size="11.5" text-anchor="start" fill="#000" >EpoR-HM</text>
<line x1="470" y1="176.3" x2="470" y2="197.5" stroke="#222" stroke-width="1.1" />
<line x1="470" y1="202.5" x2="470" y2="222.5" stroke="#222" stroke-width="1.1" />
<text x="472.5" y="189.7" font-size="11.6" text-anchor="start" fill="#000" >Saline</text>
<text x="472.5" y="210.6" font-size="11.6" text-anchor="start" fill="#000" >Day 3</text>
<text x="472.5" y="221.8" font-size="11.6" text-anchor="start" fill="#000" >post-Epo</text>
<text x="339.5" y="310.8" font-size="15.8" text-anchor="middle" fill="#000" >ProE</text>
<text x="384.4" y="310.8" font-size="15.8" text-anchor="middle" fill="#000" >EryA</text>
<text x="2.5" y="336.5" font-size="17" text-anchor="start" fill="#000" font-weight="bold" stroke="#000" stroke-width="0.35">D</text>
<text x="49.2" y="340.8" font-size="14" text-anchor="start" fill="#000" >ProE</text>
<text x="48" y="434.3" font-size="14" text-anchor="start" fill="#000" >EryA</text>
<text x="136.4" y="433.8" font-size="14.8" text-anchor="start" fill="#000" >EryB</text>
<line x1="47.6" y1="342.7" x2="47.6" y2="412.8" stroke="#a0a0a0" stroke-width="1" />
<line x1="47.6" y1="412.8" x2="129.8" y2="412.8" stroke="#a0a0a0" stroke-width="1" />
<line x1="45.8" y1="412.8" x2="47.6" y2="412.8" stroke="#a0a0a0" stroke-width="0.8" />
<text x="45.4" y="416.2" font-size="9.6" text-anchor="end" fill="#000" >20</text>
<line x1="45.8" y1="398.24" x2="47.6" y2="398.24" stroke="#a0a0a0" stroke-width="0.8" />
<text x="45.4" y="401.64" font-size="9.6" text-anchor="end" fill="#000" >40</text>
<line x1="45.8" y1="383.68" x2="47.6" y2="383.68" stroke="#a0a0a0" stroke-width="0.8" />
<text x="45.4" y="387.08" font-size="9.6" text-anchor="end" fill="#000" >60</text>
<line x1="45.8" y1="369.12" x2="47.6" y2="369.12" stroke="#a0a0a0" stroke-width="0.8" />
<text x="45.4" y="372.52" font-size="9.6" text-anchor="end" fill="#000" >80</text>
<line x1="45.8" y1="354.56" x2="47.6" y2="354.56" stroke="#a0a0a0" stroke-width="0.8" />
<text x="45.4" y="357.96" font-size="9.6" text-anchor="end" fill="#000" >100</text>
<line x1="56.8" y1="412.8" x2="56.8" y2="414.6" stroke="#a0a0a0" stroke-width="0.8" />
<line x1="72.83" y1="412.8" x2="72.83" y2="414.6" stroke="#a0a0a0" stroke-width="0.8" />
<line x1="88.86" y1="412.8" x2="88.86" y2="414.6" stroke="#a0a0a0" stroke-width="0.8" />
<line x1="104.9" y1="412.8" x2="104.9" y2="414.6" stroke="#a0a0a0" stroke-width="0.8" />
<line x1="120.93" y1="412.8" x2="120.93" y2="414.6" stroke="#a0a0a0" stroke-width="0.8" />
<line x1="56.8" y1="407.7" x2="56.8" y2="393.87" stroke="#444" stroke-width="1.3" />
<line x1="56.8" y1="392.42" x2="56.8" y2="381.5" stroke="#d06070" stroke-width="1.3" />
<line x1="80.85" y1="360.38" x2="80.85" y2="344.37" stroke="#b04050" stroke-width="1.3" />
<line x1="104.9" y1="388.05" x2="104.9" y2="347.28" stroke="#b04050" stroke-width="1.3" />
<path d="M56.8 394.79L60.4 398.39L56.8 401.99L53.2 398.39Z" fill="#999" opacity="0.75"/>
<path d="M80.85 350.23L84.45 353.83L80.85 357.43L77.25 353.83Z" fill="#999" opacity="0.75"/>
<path d="M104.9 389.69L108.5 393.29L104.9 396.89L101.3 393.29Z" fill="#999" opacity="0.75"/>
<path d="M120.93 397.33L124.53 400.93L120.93 404.53L117.33 400.93Z" fill="#999" opacity="0.75"/>
<path d="M56.8 383.5L60.4 387.1L56.8 390.7L53.2 387.1Z" fill="#f87070" opacity="0.6"/>
<path d="M80.85 350.23L84.45 353.83L80.85 357.43L77.25 353.83Z" fill="#f87070" opacity="0.6"/>
<path d="M104.9 364.14L108.5 367.74L104.9 371.34L101.3 367.74Z" fill="#f87070" opacity="0.6"/>
<path d="M120.93 373.53L124.53 377.13L120.93 380.73L117.33 377.13Z" fill="#f87070" opacity="0.6"/>
<path d="M56.8 398.39C60.81 390.96 72.83 354.68 80.85 353.83C88.86 352.98 98.22 385.44 104.9 393.29C111.58 401.14 118.26 399.66 120.93 400.93" fill="none" stroke="#000" stroke-width="1.7" stroke-linejoin="round" stroke-linecap="round" />
<path d="M56.8 387.1C60.81 381.56 72.83 357.06 80.85 353.83C88.86 350.6 98.22 363.85 104.9 367.74C111.58 371.62 118.26 375.56 120.93 377.13" fill="none" stroke="#dd1f1f" stroke-width="1.7" stroke-linejoin="round" stroke-linecap="round" />
<line x1="47.5" y1="433.7" x2="47.5" y2="499.5" stroke="#a0a0a0" stroke-width="1" />
<line x1="47.5" y1="499.5" x2="129.8" y2="499.5" stroke="#a0a0a0" stroke-width="1" />
<line x1="45.7" y1="499.5" x2="47.5" y2="499.5" stroke="#a0a0a0" stroke-width="0.8" />
<text x="45.3" y="502.9" font-size="9.6" text-anchor="end" fill="#000" >20</text>
<line x1="45.7" y1="484.94" x2="47.5" y2="484.94" stroke="#a0a0a0" stroke-width="0.8" />
<text x="45.3" y="488.34" font-size="9.6" text-anchor="end" fill="#000" >40</text>
<line x1="45.7" y1="470.38" x2="47.5" y2="470.38" stroke="#a0a0a0" stroke-width="0.8" />
<text x="45.3" y="473.78" font-size="9.6" text-anchor="end" fill="#000" >60</text>
<line x1="45.7" y1="455.82" x2="47.5" y2="455.82" stroke="#a0a0a0" stroke-width="0.8" />
<text x="45.3" y="459.22" font-size="9.6" text-anchor="end" fill="#000" >80</text>
<line x1="45.7" y1="441.26" x2="47.5" y2="441.26" stroke="#a0a0a0" stroke-width="0.8" />
<text x="45.3" y="444.66" font-size="9.6" text-anchor="end" fill="#000" >100</text>
<line x1="57" y1="499.5" x2="57" y2="501.3" stroke="#a0a0a0" stroke-width="0.8" />
<line x1="73.03" y1="499.5" x2="73.03" y2="501.3" stroke="#a0a0a0" stroke-width="0.8" />
<line x1="89.06" y1="499.5" x2="89.06" y2="501.3" stroke="#a0a0a0" stroke-width="0.8" />
<line x1="105.1" y1="499.5" x2="105.1" y2="501.3" stroke="#a0a0a0" stroke-width="0.8" />
<line x1="121.13" y1="499.5" x2="121.13" y2="501.3" stroke="#a0a0a0" stroke-width="0.8" />
<text x="57" y="510.2" font-size="9.4" text-anchor="middle" fill="#000" >0</text>
<text x="73.03" y="510.2" font-size="9.4" text-anchor="middle" fill="#000" >12</text>
<text x="89.06" y="510.2" font-size="9.4" text-anchor="middle" fill="#000" >24</text>
<text x="105.1" y="510.2" font-size="9.4" text-anchor="middle" fill="#000" >36</text>
<text x="121.13" y="510.2" font-size="9.4" text-anchor="middle" fill="#000" >48</text>
<line x1="105.1" y1="465.28" x2="105.1" y2="450" stroke="#b04050" stroke-width="1.3" />
<path d="M57 478.72L60.6 482.32L57 485.92L53.4 482.32Z" fill="#999" opacity="0.75"/>
<path d="M81.05 437.66L84.65 441.26L81.05 444.86L77.45 441.26Z" fill="#999" opacity="0.75"/>
<path d="M105.1 471.88L108.7 475.48L105.1 479.08L101.5 475.48Z" fill="#999" opacity="0.75"/>
<path d="M121.13 477.92L124.73 481.52L121.13 485.12L117.53 481.52Z" fill="#999" opacity="0.75"/>
<path d="M57 476.75L60.6 480.35L57 483.95L53.4 480.35Z" fill="#f87070" opacity="0.6"/>
<path d="M81.05 437.66L84.65 441.26L81.05 444.86L77.45 441.26Z" fill="#f87070" opacity="0.6"/>
<path d="M105.1 454.55L108.7 458.15L105.1 461.75L101.5 458.15Z" fill="#f87070" opacity="0.6"/>
<path d="M121.13 469.69L124.73 473.29L121.13 476.89L117.53 473.29Z" fill="#f87070" opacity="0.6"/>
<path d="M57 482.32C61.01 475.48 73.03 442.4 81.05 441.26C89.06 440.12 98.42 468.77 105.1 475.48C111.78 482.19 118.46 480.51 121.13 481.52" fill="none" stroke="#000" stroke-width="1.7" stroke-linejoin="round" stroke-linecap="round" />
<path d="M57 480.35C61.01 473.84 73.03 444.96 81.05 441.26C89.06 437.56 98.42 452.81 105.1 458.15C111.78 463.49 118.46 470.77 121.13 473.29" fill="none" stroke="#dd1f1f" stroke-width="1.7" stroke-linejoin="round" stroke-linecap="round" />
<line x1="134.8" y1="434.2" x2="134.8" y2="499" stroke="#a0a0a0" stroke-width="1" />
<line x1="134.8" y1="499" x2="217" y2="499" stroke="#a0a0a0" stroke-width="1" />
<line x1="133" y1="499" x2="134.8" y2="499" stroke="#a0a0a0" stroke-width="0.8" />
<line x1="133" y1="484.44" x2="134.8" y2="484.44" stroke="#a0a0a0" stroke-width="0.8" />
<line x1="133" y1="469.88" x2="134.8" y2="469.88" stroke="#a0a0a0" stroke-width="0.8" />
<line x1="133" y1="455.32" x2="134.8" y2="455.32" stroke="#a0a0a0" stroke-width="0.8" />
<line x1="133" y1="440.76" x2="134.8" y2="440.76" stroke="#a0a0a0" stroke-width="0.8" />
<line x1="144.2" y1="499" x2="144.2" y2="500.8" stroke="#a0a0a0" stroke-width="0.8" />
<line x1="160.23" y1="499" x2="160.23" y2="500.8" stroke="#a0a0a0" stroke-width="0.8" />
<line x1="176.26" y1="499" x2="176.26" y2="500.8" stroke="#a0a0a0" stroke-width="0.8" />
<line x1="192.3" y1="499" x2="192.3" y2="500.8" stroke="#a0a0a0" stroke-width="0.8" />
<line x1="208.33" y1="499" x2="208.33" y2="500.8" stroke="#a0a0a0" stroke-width="0.8" />
<text x="144.2" y="510.2" font-size="9.4" text-anchor="middle" fill="#000" >0</text>
<text x="160.23" y="510.2" font-size="9.4" text-anchor="middle" fill="#000" >12</text>
<text x="176.26" y="510.2" font-size="9.4" text-anchor="middle" fill="#000" >24</text>
<text x="192.3" y="510.2" font-size="9.4" text-anchor="middle" fill="#000" >36</text>
<text x="208.33" y="510.2" font-size="9.4" text-anchor="middle" fill="#000" >48</text>
<line x1="192.3" y1="452.04" x2="192.3" y2="435.66" stroke="#b04050" stroke-width="1.3" />
<line x1="144.2" y1="477.89" x2="144.2" y2="469.88" stroke="#444" stroke-width="1.3" />
<path d="M144.2 469.41L147.8 473.01L144.2 476.61L140.6 473.01Z" fill="#999" opacity="0.75"/>
<path d="M168.25 437.16L171.85 440.76L168.25 444.36L164.65 440.76Z" fill="#999" opacity="0.75"/>
<path d="M192.3 464.1L195.9 467.7L192.3 471.3L188.7 467.7Z" fill="#999" opacity="0.75"/>
<path d="M208.33 466.64L211.93 470.24L208.33 473.84L204.73 470.24Z" fill="#999" opacity="0.75"/>
<path d="M144.2 468.46L147.8 472.06L144.2 475.66L140.6 472.06Z" fill="#f87070" opacity="0.6"/>
<path d="M168.25 437.16L171.85 440.76L168.25 444.36L164.65 440.76Z" fill="#f87070" opacity="0.6"/>
<path d="M192.3 439.64L195.9 443.24L192.3 446.84L188.7 443.24Z" fill="#f87070" opacity="0.6"/>
<path d="M208.33 462.2L211.93 465.8L208.33 469.4L204.73 465.8Z" fill="#f87070" opacity="0.6"/>
<path d="M144.2 473.01C148.21 467.64 160.23 441.65 168.25 440.76C176.26 439.87 185.62 462.78 192.3 467.7C198.98 472.61 205.66 469.82 208.33 470.24" fill="none" stroke="#000" stroke-width="1.7" stroke-linejoin="round" stroke-linecap="round" />
<path d="M144.2 472.06C148.21 466.85 160.23 445.56 168.25 440.76C176.26 435.96 185.62 439.06 192.3 443.24C198.98 447.41 205.66 462.04 208.33 465.8" fill="none" stroke="#dd1f1f" stroke-width="1.7" stroke-linejoin="round" stroke-linecap="round" />
<text x="139.5" y="522.4" font-size="14.5" text-anchor="middle" fill="#000" >Time (h)</text>
<text x="22.4" y="463" font-size="15" text-anchor="start" fill="#000" transform="rotate(-90 22.4 463)" >Bcl-x</text>
<text x="27.6" y="430.1" font-size="9" text-anchor="start" fill="#000" transform="rotate(-90 27.6 430.1)" >L</text>
<text x="22.1" y="425.4" font-size="9.8" text-anchor="start" fill="#000" transform="rotate(-90 22.1 425.4)" >(% of max)</text>
<rect x="138.3" y="340.6" width="7.6" height="7.8" fill="#000" />
<text x="148.2" y="347.9" font-size="11.3" text-anchor="start" fill="#000" >WT</text>
<rect x="138.3" y="352.6" width="7.6" height="7.6" fill="#e01c14" />
<text x="148.2" y="360.1" font-size="11.3" text-anchor="start" fill="#000" >EpoR-H</text>
<text x="283.6" y="336.9" font-size="17.2" text-anchor="start" fill="#000" font-weight="bold" stroke="#000" stroke-width="0.35">F</text>
<text x="302.4" y="464.1" font-size="15" text-anchor="start" fill="#000" transform="rotate(-90 302.4 464.1)" >Cell frequency</text>
<text x="303.3" y="365" font-size="9" text-anchor="start" fill="#000" transform="rotate(-90 303.3 365)" >(%)</text>
<text x="400.6" y="525.6" font-size="14.8" text-anchor="middle" fill="#000" >p-Stat5</text>
<rect x="316.6" y="328.5" width="85.5" height="86" fill="none" stroke="#999" stroke-width="0.9"/>
<rect x="316.6" y="418.5" width="85.3" height="86" fill="none" stroke="#999" stroke-width="0.9"/>
<rect x="406.6" y="418.5" width="86.2" height="86" fill="none" stroke="#999" stroke-width="0.9"/>
<rect x="409.8" y="336.4" width="6.8" height="6.6" fill="#0a1ee0" />
<text x="420.6" y="344.6" font-size="12" text-anchor="start" fill="#000" >WT</text>
<rect x="409.8" y="350.5" width="6.8" height="6.6" fill="#8a22e6" />
<text x="420.6" y="358.7" font-size="12" text-anchor="start" fill="#000" >β–thal</text>
<rect x="409.8" y="364.8" width="6.8" height="6.6" fill="#e01414" />
<text x="420.6" y="373" font-size="12" text-anchor="start" fill="#000" >WT</text>
<rect x="409.8" y="378.3" width="6.8" height="6.6" fill="#f08a20" />
<text x="420.6" y="386.5" font-size="12" text-anchor="start" fill="#000" >β–thal</text>
<rect x="409.8" y="391.8" width="7.2" height="7" fill="#e6e6e6" stroke="#aaa" stroke-width="0.8"/>
<text x="419.6" y="399.4" font-size="11.85" text-anchor="start" fill="#000" >non erythroid</text>
<line x1="456.2" y1="334.4" x2="456.2" y2="356.7" stroke="#222" stroke-width="1.1" />
<line x1="456.2" y1="364.8" x2="456.2" y2="385.5" stroke="#222" stroke-width="1.1" />
<text x="458.6" y="348.8" font-size="11.6" text-anchor="start" fill="#000" >Saline</text>
<text x="458.6" y="379.7" font-size="11.6" text-anchor="start" fill="#000" >Epo</text>
<line x1="314.8" y1="414.2" x2="316.6" y2="414.2" stroke="#888" stroke-width="0.6" />
<text x="314.4" y="415.7" font-size="4.6" text-anchor="end" fill="#555" >0</text>
<line x1="314.8" y1="397.8" x2="316.6" y2="397.8" stroke="#888" stroke-width="0.6" />
<text x="314.4" y="399.3" font-size="4.6" text-anchor="end" fill="#555" >20</text>
<line x1="314.8" y1="381.4" x2="316.6" y2="381.4" stroke="#888" stroke-width="0.6" />
<text x="314.4" y="382.9" font-size="4.6" text-anchor="end" fill="#555" >40</text>
<line x1="314.8" y1="365" x2="316.6" y2="365" stroke="#888" stroke-width="0.6" />
<text x="314.4" y="366.5" font-size="4.6" text-anchor="end" fill="#555" >60</text>
<line x1="314.8" y1="348.6" x2="316.6" y2="348.6" stroke="#888" stroke-width="0.6" />
<text x="314.4" y="350.1" font-size="4.6" text-anchor="end" fill="#555" >80</text>
<line x1="314.8" y1="332.2" x2="316.6" y2="332.2" stroke="#888" stroke-width="0.6" />
<text x="314.4" y="333.7" font-size="4.6" text-anchor="end" fill="#555" >100</text>
<line x1="315.6" y1="406" x2="316.6" y2="406" stroke="#aaa" stroke-width="0.5" />
<line x1="315.6" y1="389.6" x2="316.6" y2="389.6" stroke="#aaa" stroke-width="0.5" />
<line x1="315.6" y1="373.2" x2="316.6" y2="373.2" stroke="#aaa" stroke-width="0.5" />
<line x1="315.6" y1="356.8" x2="316.6" y2="356.8" stroke="#aaa" stroke-width="0.5" />
<line x1="315.6" y1="340.4" x2="316.6" y2="340.4" stroke="#aaa" stroke-width="0.5" />
<line x1="314.8" y1="504.2" x2="316.6" y2="504.2" stroke="#888" stroke-width="0.6" />
<text x="314.4" y="505.7" font-size="4.6" text-anchor="end" fill="#555" >0</text>
<line x1="314.8" y1="487.8" x2="316.6" y2="487.8" stroke="#888" stroke-width="0.6" />
<text x="314.4" y="489.3" font-size="4.6" text-anchor="end" fill="#555" >20</text>
<line x1="314.8" y1="471.4" x2="316.6" y2="471.4" stroke="#888" stroke-width="0.6" />
<text x="314.4" y="472.9" font-size="4.6" text-anchor="end" fill="#555" >40</text>
<line x1="314.8" y1="455" x2="316.6" y2="455" stroke="#888" stroke-width="0.6" />
<text x="314.4" y="456.5" font-size="4.6" text-anchor="end" fill="#555" >60</text>
<line x1="314.8" y1="438.6" x2="316.6" y2="438.6" stroke="#888" stroke-width="0.6" />
<text x="314.4" y="440.1" font-size="4.6" text-anchor="end" fill="#555" >80</text>
<line x1="314.8" y1="422.2" x2="316.6" y2="422.2" stroke="#888" stroke-width="0.6" />
<text x="314.4" y="423.7" font-size="4.6" text-anchor="end" fill="#555" >100</text>
<line x1="315.6" y1="496" x2="316.6" y2="496" stroke="#aaa" stroke-width="0.5" />
<line x1="315.6" y1="479.6" x2="316.6" y2="479.6" stroke="#aaa" stroke-width="0.5" />
<line x1="315.6" y1="463.2" x2="316.6" y2="463.2" stroke="#aaa" stroke-width="0.5" />
<line x1="315.6" y1="446.8" x2="316.6" y2="446.8" stroke="#aaa" stroke-width="0.5" />
<line x1="315.6" y1="430.4" x2="316.6" y2="430.4" stroke="#aaa" stroke-width="0.5" />
<path d="M317.4 414.2 L318.9 405.34 L319.7 396.57 L321.3 378.94 L322.2 369.1 L323 360.9 L324.4 353.52 L325.5 351.88 L326.2 346.96 L327.2 338.76 L327.9 333.84 L328.5 340.4 L329.3 346.96 L330.4 349.42 L331.4 351.88 L332.3 355.16 L333.1 360.9 L334.5 378.94 L335.2 387.96 L336 396.57 L337.4 405.34 L339.2 414.2Z" fill="#e2e2e2" stroke="#c4c4c4" stroke-width="0.8" stroke-linejoin="round" />
<path d="M317.5 414.69 L321 411.74 L323.5 408.87 L326.2 405.34 L328.8 403.62 L331.4 400.1 L333.1 385.99 L334 375.33 L335.7 372.71 L336.5 371.89 L338 361.06 L338.8 359.34 L340 366.48 L340.9 368.2 L341.8 373.45 L343.2 380.5 L344.4 382.3 L345.3 385.75 L347 382.3 L348.2 371.64 L349.9 361.06 L351.1 343.43 L352.4 334.66 L353.5 333.84 L354.5 343.43 L355.3 370.25 L356.4 396.49 L357.8 408.87 L359.6 414.2 L402 414.2" fill="none" stroke="#7c1fe4" stroke-width="2.3" stroke-linejoin="round" />
<path d="M317.5 414.69 L319.2 410.51 L321 405.34 L322.7 403.62 L324.4 405.34 L326.2 407.97 L328 406.25 L329.6 407.15 L331.4 403.62 L333.1 400.1 L334.8 396.49 L336.6 393.78 L338 389.52 L339.2 386.89 L340 385.99 L341.4 388.62 L342.6 386.89 L343.9 390.42 L345.3 393.78 L347 389.52 L348.7 378.94 L350.5 370.08 L351.8 347.04 L353.1 336.46 L354.3 334.66 L355.1 352.29 L356.2 370.08 L357.1 371.89 L357.8 387.8 L358.8 405.34 L360 414.2 L402 414.2" fill="none" stroke="#1b1bdc" stroke-width="2.3" stroke-linejoin="round" />
<path d="M317.4 504.2 L318.9 495.34 L319.7 486.57 L321.3 468.94 L322.2 459.1 L323 450.9 L324.4 443.52 L325.5 441.88 L326.2 436.96 L327.2 428.76 L327.9 423.84 L328.5 430.4 L329.3 436.96 L330.4 439.42 L331.4 441.88 L332.3 445.16 L333.1 450.9 L334.5 468.94 L335.2 477.96 L336 486.57 L337.4 495.34 L339.2 504.2Z" fill="#e2e2e2" stroke="#c4c4c4" stroke-width="0.8" stroke-linejoin="round" />
<path d="M317.5 504.69 L324.4 504.2 L331.4 503.38 L336.6 498.87 L339.2 496.25 L341.8 491.82 L343.5 488.29 L345.3 483.86 L347 483.86 L348.7 482.14 L350.5 477.71 L351.7 476.81 L352.5 482.14 L353.6 483.86 L354.5 488.29 L355.7 483.04 L357.1 460 L358.8 435.32 L360 424.66 L361.2 423.84 L362.3 430.07 L363.5 451.23 L364.7 477.71 L365.7 493.62 L367 500.67 L368.7 504.2 L401.5 504.2" fill="none" stroke="#e21a1a" stroke-width="2.3" stroke-linejoin="round" />
<path d="M317.1 504.2 L319.2 500.67 L321 495.34 L322.7 493.62 L324.4 496.25 L325.8 494.52 L327 497.15 L328.8 495.34 L330.5 493.62 L332.2 491.82 L334 490.1 L335.7 488.29 L337.4 484.77 L339.2 476.81 L340.9 475.91 L342.1 479.44 L343.5 476.81 L344.9 482.14 L346.6 479.44 L348.4 474.19 L350.1 468.86 L351.8 460 L353.1 442.37 L354.3 423.84 L355.3 442.37 L356.2 458.28 L357.4 468.86 L358.4 486.57 L359.5 500.67 L360.9 504.2" fill="none" stroke="#1b1bdc" stroke-width="2.3" stroke-linejoin="round" />
<path d="M407.4 504.2 L408.9 495.34 L409.7 486.57 L411.3 468.94 L412.2 459.1 L413 450.9 L414.4 443.52 L415.5 441.88 L416.2 436.96 L417.2 428.76 L417.9 423.84 L418.5 430.4 L419.3 436.96 L420.4 439.42 L421.4 441.88 L422.3 445.16 L423.1 450.9 L424.5 468.94 L425.2 477.96 L426 486.57 L427.4 495.34 L429.2 504.2Z" fill="#e2e2e2" stroke="#c4c4c4" stroke-width="0.8" stroke-linejoin="round" />
<path d="M407.5 504.69 L421.4 504.2 L428.3 502.4 L431.8 498.87 L433.9 493.62 L435.2 491.82 L436.6 488.29 L437.9 490.1 L439.1 489.19 L440.5 486.57 L442.2 483.04 L443.9 475.91 L445.3 465.33 L446.2 442.37 L446.9 430.07 L447.8 435.32 L448.4 440.65 L449.1 430.07 L450 423.84 L450.9 433.52 L451.7 460 L452.6 483.04 L453.8 497.15 L455.2 503.38 L457 504.2 L492.3 504.2" fill="none" stroke="#f28c26" stroke-width="2.3" stroke-linejoin="round" />
<path d="M410.9 504.69 L413.5 503.38 L416.2 499.77 L418.8 496.25 L420.5 491.82 L422.2 481.24 L424 467.14 L424.8 463.61 L426.2 461.81 L427.4 452.13 L428.3 449.42 L429.2 454.75 L430 458.28 L430.9 459.18 L431.8 465.33 L432.6 468.86 L433.9 472.38 L434.9 470.66 L435.6 475.91 L436.3 481.24 L437.3 474.19 L438.7 460 L440.5 442.37 L442.2 428.27 L443.6 423.84 L444.5 428.27 L445.3 451.23 L446.2 474.19 L447.4 486.57 L448.6 495.34 L450 502.4 L451.7 504.2" fill="none" stroke="#7c1fe4" stroke-width="2.3" stroke-linejoin="round" />
<line x1="344.9" y1="391.2" x2="387" y2="391.2" stroke="#222" stroke-width="1" />
<line x1="344.9" y1="389.2" x2="344.9" y2="393.2" stroke="#222" stroke-width="1" />
<line x1="387" y1="389.2" x2="387" y2="393.2" stroke="#222" stroke-width="1" />
<line x1="344.9" y1="481.2" x2="387" y2="481.2" stroke="#222" stroke-width="1" />
<line x1="344.9" y1="479.2" x2="344.9" y2="483.2" stroke="#222" stroke-width="1" />
<line x1="387" y1="479.2" x2="387" y2="483.2" stroke="#222" stroke-width="1" />
<line x1="434.9" y1="481.2" x2="477.1" y2="481.2" stroke="#222" stroke-width="1" />
<line x1="434.9" y1="479.2" x2="434.9" y2="483.2" stroke="#222" stroke-width="1" />
<line x1="477.1" y1="479.2" x2="477.1" y2="483.2" stroke="#222" stroke-width="1" />
<text x="363.8" y="372.5" font-size="13" text-anchor="start" fill="#7c1fe4" >51%</text>
<text x="363.8" y="385.1" font-size="13" text-anchor="start" fill="#1b1bdc" >60%</text>
<text x="368.5" y="477" font-size="13" text-anchor="start" fill="#000" >91%</text>
<text x="457.3" y="477" font-size="13" text-anchor="start" fill="#000" >94%</text>
<text x="377.9" y="433" font-size="13" text-anchor="start" fill="#000" >WT</text>
<text x="457" y="434.3" font-size="13" text-anchor="start" fill="#000" >β-thal</text>
<text x="320.6" y="510" font-size="4.6" fill="#555">0 10<tspan font-size="3" dy="-1.5">2</tspan></text>
<text x="346.6" y="510" font-size="4.6" fill="#555">10<tspan font-size="3" dy="-1.5">3</tspan></text>
<text x="368.3" y="510" font-size="4.6" fill="#555">10<tspan font-size="3" dy="-1.5">4</tspan></text>
<text x="390" y="510" font-size="4.6" fill="#555">10<tspan font-size="3" dy="-1.5">5</tspan></text>
<line x1="322.6" y1="504.2" x2="322.6" y2="505.7" stroke="#888" stroke-width="0.6" />
<line x1="330.6" y1="504.2" x2="330.6" y2="505.7" stroke="#888" stroke-width="0.6" />
<line x1="349.6" y1="504.2" x2="349.6" y2="505.7" stroke="#888" stroke-width="0.6" />
<line x1="371.3" y1="504.2" x2="371.3" y2="505.7" stroke="#888" stroke-width="0.6" />
<line x1="393" y1="504.2" x2="393" y2="505.7" stroke="#888" stroke-width="0.6" />
<text x="410.6" y="510" font-size="4.6" fill="#555">0 10<tspan font-size="3" dy="-1.5">2</tspan></text>
<text x="436.6" y="510" font-size="4.6" fill="#555">10<tspan font-size="3" dy="-1.5">3</tspan></text>
<text x="458.3" y="510" font-size="4.6" fill="#555">10<tspan font-size="3" dy="-1.5">4</tspan></text>
<text x="480" y="510" font-size="4.6" fill="#555">10<tspan font-size="3" dy="-1.5">5</tspan></text>
<line x1="412.6" y1="504.2" x2="412.6" y2="505.7" stroke="#888" stroke-width="0.6" />
<line x1="420.6" y1="504.2" x2="420.6" y2="505.7" stroke="#888" stroke-width="0.6" />
<line x1="439.6" y1="504.2" x2="439.6" y2="505.7" stroke="#888" stroke-width="0.6" />
<line x1="461.3" y1="504.2" x2="461.3" y2="505.7" stroke="#888" stroke-width="0.6" />
<line x1="483" y1="504.2" x2="483" y2="505.7" stroke="#888" stroke-width="0.6" />
</svg>
</body></html>
